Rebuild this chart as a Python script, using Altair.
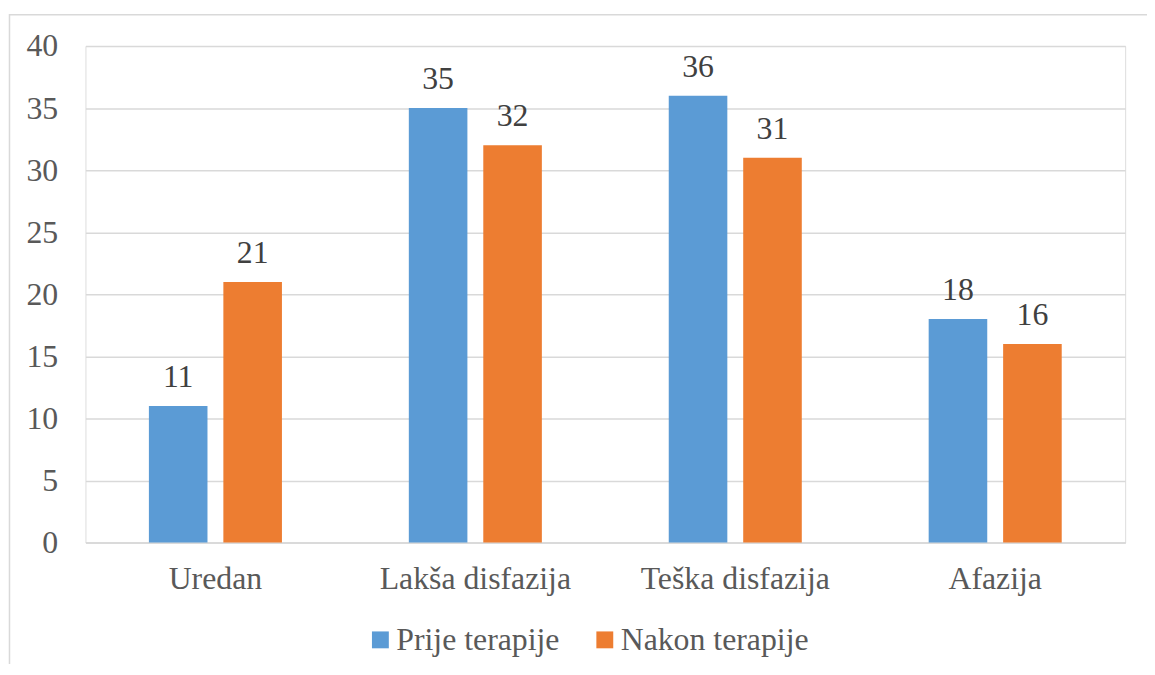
import altair as alt
import pandas as pd

categories = ["Uredan", "Lakša disfazija", "Teška disfazija", "Afazija"]
series = ["Prije terapije", "Nakon terapije"]
prije = [11, 35, 36, 18]
nakon = [21, 32, 31, 16]
colors = ["#5B9BD5", "#ED7D31"]

rows = []
for c, a, b in zip(categories, prije, nakon):
    rows.append({"cat": c, "series": series[0], "value": a})
    rows.append({"cat": c, "series": series[1], "value": b})
df = pd.DataFrame(rows)

FONT = "Times New Roman, Liberation Serif, serif"
FS = 32

x = alt.X("cat:N", sort=categories, title=None,
          scale=alt.Scale(paddingInner=0, paddingOuter=0),
          axis=alt.Axis(labelAngle=0, labelFont=FONT, labelFontSize=FS,
                        labelColor="#595959", labelPadding=21, ticks=False,
                        labelLimit=0,
                        domainColor="#d9d9d9", domainWidth=1.5, grid=False))
xo = alt.XOffset("series:N", sort=series,
                 scale=alt.Scale(paddingInner=0.2133, paddingOuter=0.852))
y = alt.Y("value:Q", title=None,
          scale=alt.Scale(domain=[0, 40]),
          axis=alt.Axis(values=[0, 5, 10, 15, 20, 25, 30, 35, 40],
                        labelFont=FONT, labelFontSize=FS, labelColor="#595959",
                        labelPadding=28, ticks=False, domain=False,
                        gridColor="#d9d9d9", gridWidth=1.5))
color = alt.Color("series:N", sort=series,
                  scale=alt.Scale(domain=series, range=colors),
                  legend=alt.Legend(title=None, orient="none", direction="horizontal",
                                    legendX=281, legendY=582, symbolType="square",
                                    symbolSize=289, symbolStrokeWidth=0,
                                    labelFont=FONT, labelFontSize=FS, labelLimit=0,
                                    labelColor="#595959", labelOffset=0,
                                    columnPadding=29, padding=0))

bars = alt.Chart(df).mark_bar().encode(x=x, xOffset=xo, y=y, color=color)
labels = alt.Chart(df).mark_text(font=FONT, fontSize=FS, color="#404040",
                                 baseline="bottom", dy=-12).encode(
    x=x, xOffset=xo, y=y, text="value:Q")

frame = alt.Chart(pd.DataFrame({"a": [0]})).mark_rect(
    fill=None, stroke="#d9d9d9", strokeWidth=1.5).encode(
    x=alt.value(-76.5), x2=alt.value(1200), y=alt.value(-31.5), y2=alt.value(800))

chart = alt.layer(frame, bars, labels).properties(
    width=1047, height=500,
    autosize=alt.AutoSizeParams(type="none"),
    padding={"left": 78, "top": 36, "right": 22, "bottom": 120},
).configure_view(stroke=None).configure(background="white")

chart.save("out.html", embed_options={"renderer": "svg", "actions": False})
